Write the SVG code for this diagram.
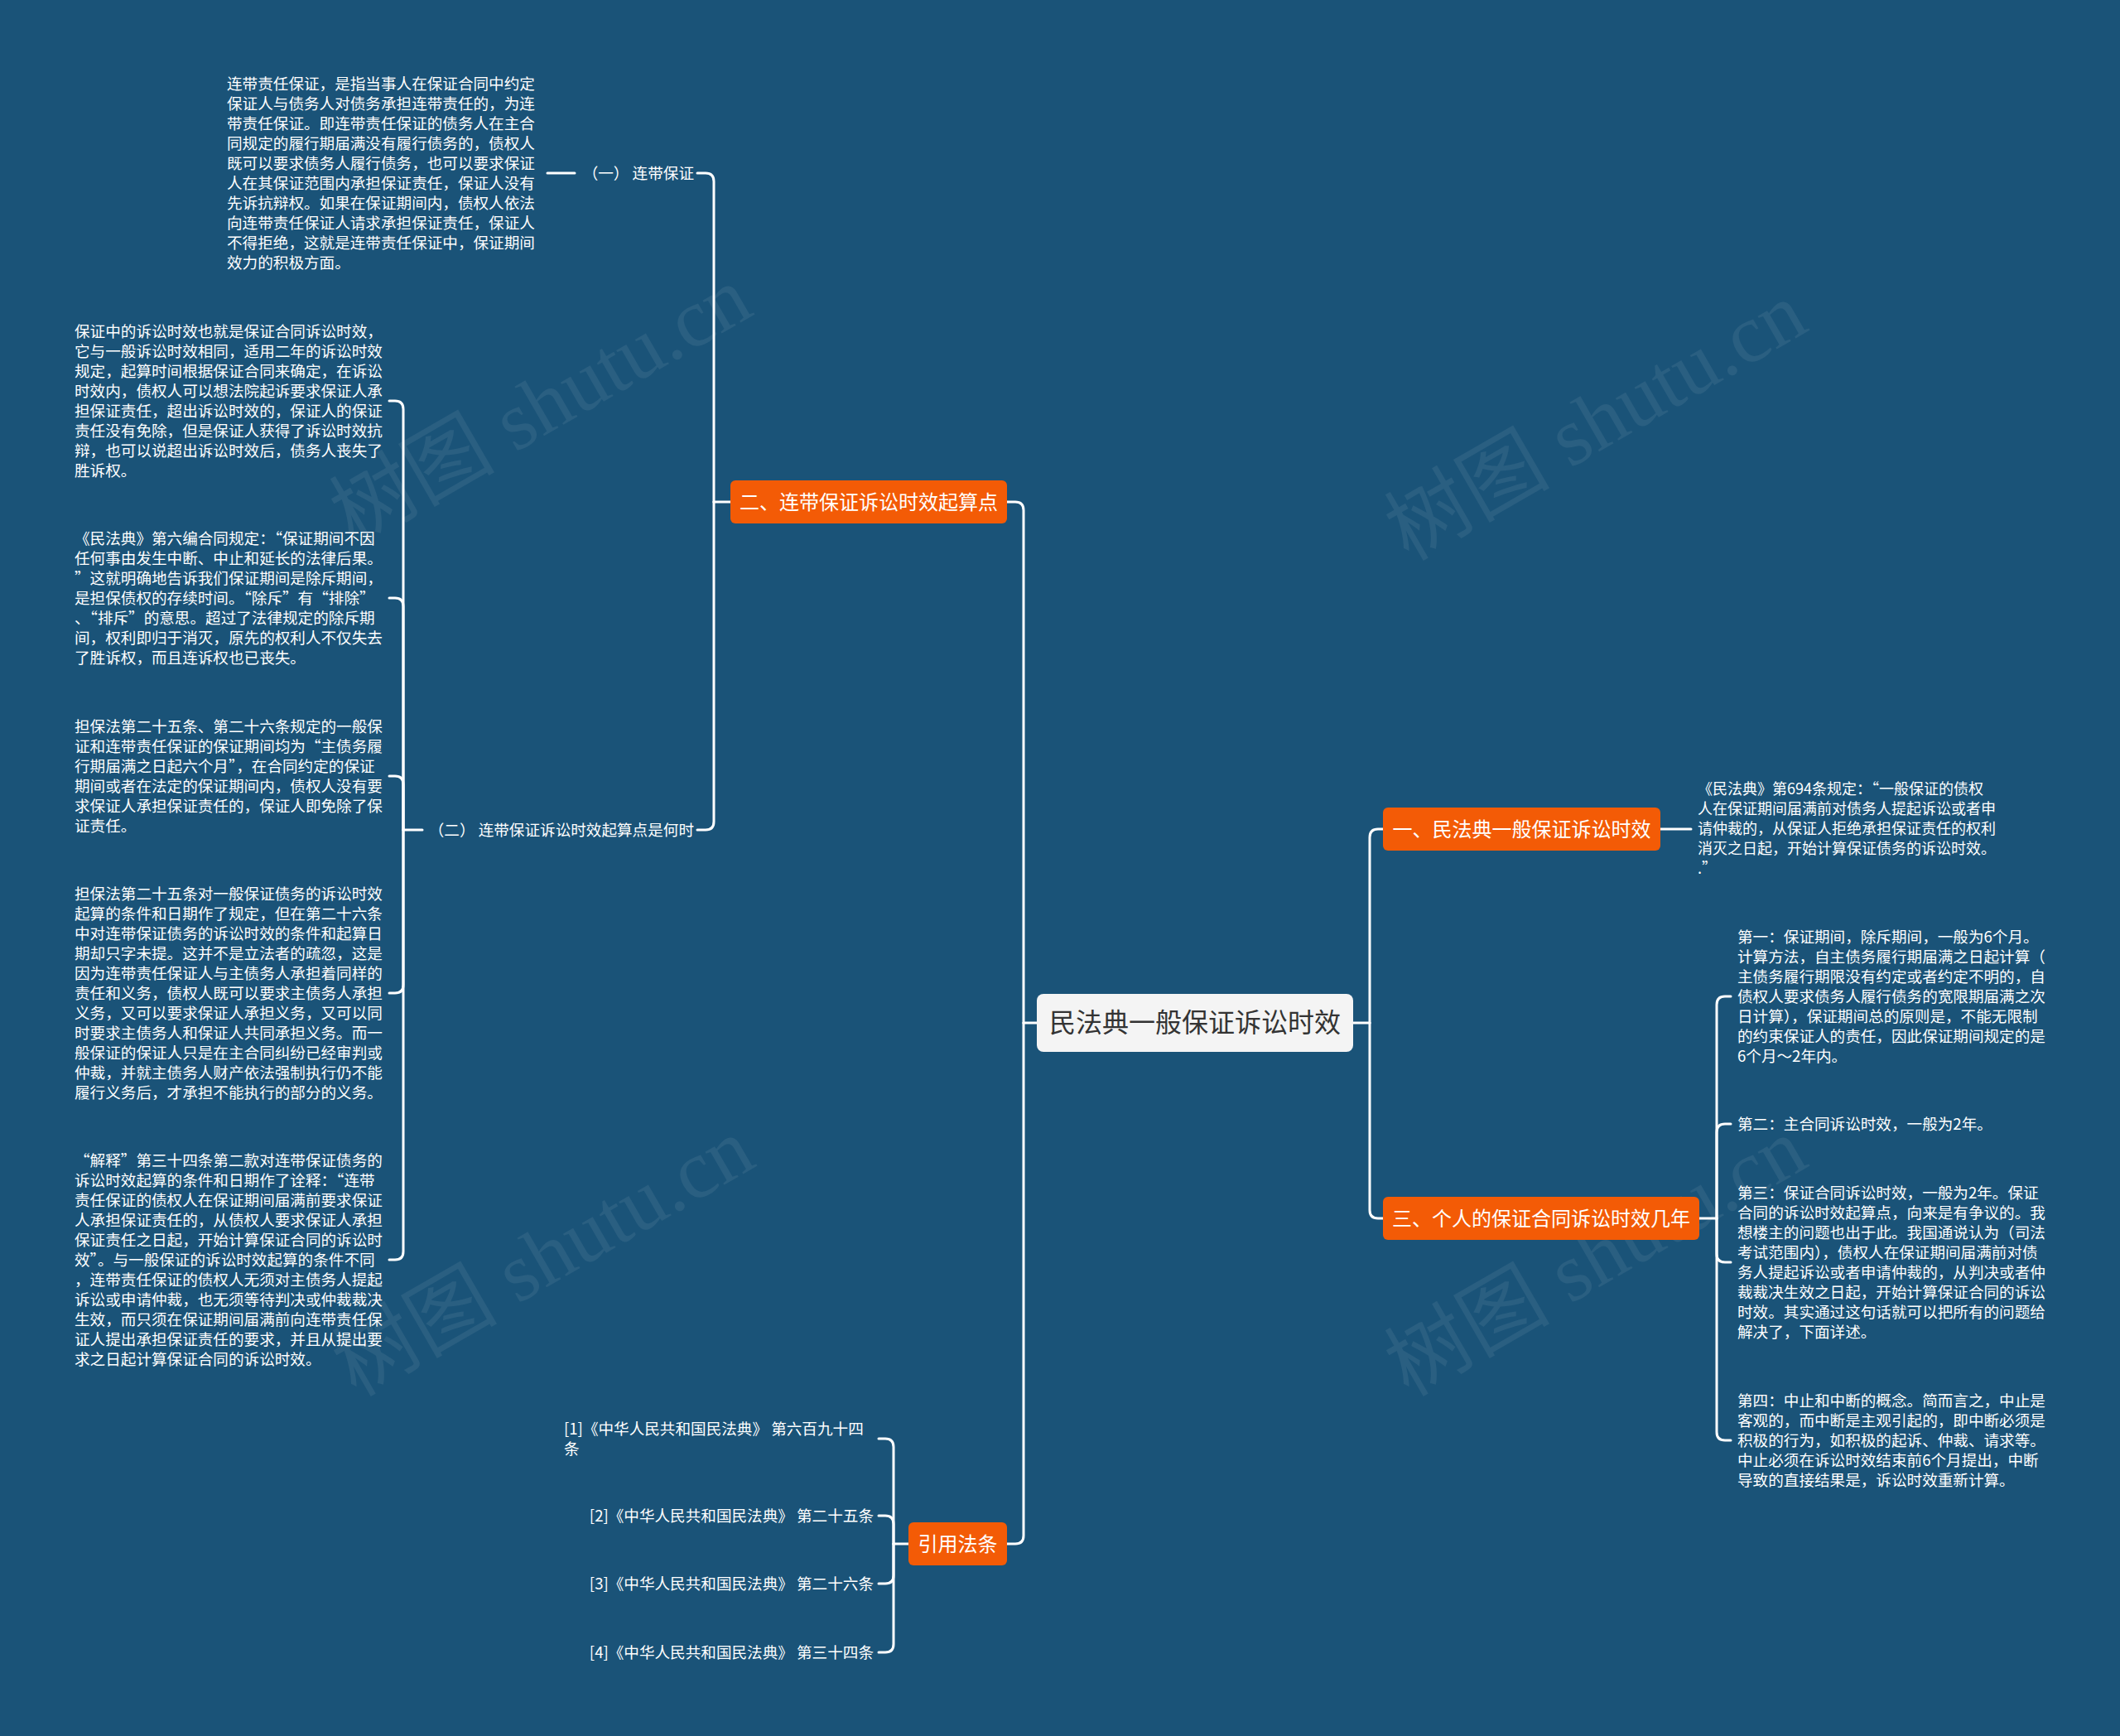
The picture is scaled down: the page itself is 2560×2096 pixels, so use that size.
<svg xmlns="http://www.w3.org/2000/svg" width="2560" height="2096" viewBox="0 0 2560 2096">
<style>
.bg{fill:#1a5378}
.wm{font-family:"Liberation Serif","Noto Sans CJK SC",serif;font-size:100px;fill:#ffffff;fill-opacity:0.07}
.t{font-family:"Noto Sans CJK SC","Liberation Sans",sans-serif;font-size:18.6px;fill:#ffffff}
.t18{font-family:"Noto Sans CJK SC","Liberation Sans",sans-serif;font-size:18px;fill:#ffffff}
.br{fill:#f35b06}
.bt{font-family:"Noto Sans CJK SC","Liberation Sans",sans-serif;font-size:24px;fill:#ffffff;text-anchor:middle}
.ct{font-family:"Noto Sans CJK SC","Liberation Sans",sans-serif;font-size:32px;fill:#333333;text-anchor:middle}
.c{fill:none;stroke:#ffffff;stroke-width:3;stroke-linecap:round;stroke-linejoin:round}
</style>
<rect class="bg" x="0" y="0" width="2560" height="2096"/>
<g id="watermarks">
<text class="wm" transform="translate(653,490) rotate(-30)" text-anchor="middle" dominant-baseline="central">树图 shutu.cn</text>
<text class="wm" transform="translate(1927,509) rotate(-30)" text-anchor="middle" dominant-baseline="central">树图 shutu.cn</text>
<text class="wm" transform="translate(656,1518) rotate(-30)" text-anchor="middle" dominant-baseline="central">树图 shutu.cn</text>
<text class="wm" transform="translate(1927,1518) rotate(-30)" text-anchor="middle" dominant-baseline="central">树图 shutu.cn</text>
</g>
<g id="connectors">
<path class="c" d="M1252,1235 H1236"/>
<path class="c" d="M1236,1235 V616 Q1236,606 1226,606 H1216"/>
<path class="c" d="M1236,1235 V1854 Q1236,1864 1226,1864 H1216"/>
<path class="c" d="M1634,1235 H1654"/>
<path class="c" d="M1654,1235 V1011 Q1654,1001 1664,1001 H1670"/>
<path class="c" d="M1654,1235 V1461 Q1654,1471 1664,1471 H1670"/>
<path class="c" d="M882,606 H862"/>
<path class="c" d="M862,606 V219 Q862,209 852,209 H842"/>
<path class="c" d="M862,606 V992 Q862,1002 852,1002 H842"/>
<path class="c" d="M694,209 H661"/>
<path class="c" d="M510,1002 H487"/>
<path class="c" d="M487,1002 V494 Q487,484 477,484 H470"/>
<path class="c" d="M487,1002 V732 Q487,722 477,722 H470"/>
<path class="c" d="M487,1002 V947 Q487,937 477,937 H470"/>
<path class="c" d="M487,1002 V1189 Q487,1199 477,1199 H470"/>
<path class="c" d="M487,1002 V1511 Q487,1521 477,1521 H470"/>
<path class="c" d="M2005,1001 H2042"/>
<path class="c" d="M2052,1471 H2073"/>
<path class="c" d="M2073,1471 V1213 Q2073,1203 2083,1203 H2090"/>
<path class="c" d="M2073,1471 V1367 Q2073,1357 2083,1357 H2090"/>
<path class="c" d="M2073,1471 V1514 Q2073,1524 2083,1524 H2090"/>
<path class="c" d="M2073,1471 V1729 Q2073,1739 2083,1739 H2090"/>
<path class="c" d="M1097,1864 H1079"/>
<path class="c" d="M1079,1864 V1747 Q1079,1737 1069,1737 H1061"/>
<path class="c" d="M1079,1864 V1840 Q1079,1830 1069,1830 H1061"/>
<path class="c" d="M1079,1864 V1902 Q1079,1912 1069,1912 H1061"/>
<path class="c" d="M1079,1864 V1985 Q1079,1995 1069,1995 H1061"/>
</g>
<g id="root">
<rect x="1252" y="1200" width="382" height="70" rx="8" fill="#f4f4f4"/>
<text class="ct" x="1443" y="1246">民法典一般保证诉讼时效</text>
</g>
<g id="branch2">
<rect class="br" x="882" y="580" width="334" height="52" rx="6"/>
<text class="bt" x="1049" y="615">二、连带保证诉讼时效起算点</text>
</g>
<g id="branch1">
<rect class="br" x="1670" y="975" width="335" height="52" rx="6"/>
<text class="bt" x="1837.5" y="1010">一、民法典一般保证诉讼时效</text>
</g>
<g id="branch3">
<rect class="br" x="1670" y="1445" width="382" height="52" rx="6"/>
<text class="bt" x="1861" y="1480">三、个人的保证合同诉讼时效几年</text>
</g>
<g id="branch4">
<rect class="br" x="1097" y="1838" width="119" height="52" rx="6"/>
<text class="bt" x="1156.5" y="1873">引用法条</text>
</g>
<g id="sub-2-1">
<text class="t" x="838" y="216" text-anchor="end">（一） 连带保证</text>
</g>
<g id="sub-2-2">
<text class="t" x="838" y="1009" text-anchor="end">（二） 连带保证诉讼时效起算点是何时</text>
</g>
<g id="leaf-2-1-1">
<text class="t">
<tspan x="274" y="108">连带责任保证，是指当事人在保证合同中约定</tspan>
<tspan x="274" y="132">保证人与债务人对债务承担连带责任的，为连</tspan>
<tspan x="274" y="156">带责任保证。即连带责任保证的债务人在主合</tspan>
<tspan x="274" y="180">同规定的履行期届满没有履行债务的，债权人</tspan>
<tspan x="274" y="204">既可以要求债务人履行债务，也可以要求保证</tspan>
<tspan x="274" y="228">人在其保证范围内承担保证责任，保证人没有</tspan>
<tspan x="274" y="252">先诉抗辩权。如果在保证期间内，债权人依法</tspan>
<tspan x="274" y="276">向连带责任保证人请求承担保证责任，保证人</tspan>
<tspan x="274" y="300">不得拒绝，这就是连带责任保证中，保证期间</tspan>
<tspan x="274" y="324">效力的积极方面。</tspan>
</text>
</g>
<g id="leaf-2-2-1">
<text class="t">
<tspan x="90" y="407">保证中的诉讼时效也就是保证合同诉讼时效，</tspan>
<tspan x="90" y="431">它与一般诉讼时效相同，适用二年的诉讼时效</tspan>
<tspan x="90" y="455">规定，起算时间根据保证合同来确定，在诉讼</tspan>
<tspan x="90" y="479">时效内，债权人可以想法院起诉要求保证人承</tspan>
<tspan x="90" y="503">担保证责任，超出诉讼时效的，保证人的保证</tspan>
<tspan x="90" y="527">责任没有免除，但是保证人获得了诉讼时效抗</tspan>
<tspan x="90" y="551">辩，也可以说超出诉讼时效后，债务人丧失了</tspan>
<tspan x="90" y="575">胜诉权。</tspan>
</text>
</g>
<g id="leaf-2-2-2">
<text class="t">
<tspan x="90" y="657">《民法典》第六编合同规定：“保证期间不因</tspan>
<tspan x="90" y="681">任何事由发生中断、中止和延长的法律后果。</tspan>
<tspan x="90" y="705">”这就明确地告诉我们保证期间是除斥期间，</tspan>
<tspan x="90" y="729">是担保债权的存续时间。“除斥”有“排除”</tspan>
<tspan x="90" y="753">、“排斥”的意思。超过了法律规定的除斥期</tspan>
<tspan x="90" y="777">间，权利即归于消灭，原先的权利人不仅失去</tspan>
<tspan x="90" y="801">了胜诉权，而且连诉权也已丧失。</tspan>
</text>
</g>
<g id="leaf-2-2-3">
<text class="t">
<tspan x="90" y="884">担保法第二十五条、第二十六条规定的一般保</tspan>
<tspan x="90" y="908">证和连带责任保证的保证期间均为“主债务履</tspan>
<tspan x="90" y="932">行期届满之日起六个月”，在合同约定的保证</tspan>
<tspan x="90" y="956">期间或者在法定的保证期间内，债权人没有要</tspan>
<tspan x="90" y="980">求保证人承担保证责任的，保证人即免除了保</tspan>
<tspan x="90" y="1004">证责任。</tspan>
</text>
</g>
<g id="leaf-2-2-4">
<text class="t">
<tspan x="90" y="1086">担保法第二十五条对一般保证债务的诉讼时效</tspan>
<tspan x="90" y="1110">起算的条件和日期作了规定，但在第二十六条</tspan>
<tspan x="90" y="1134">中对连带保证债务的诉讼时效的条件和起算日</tspan>
<tspan x="90" y="1158">期却只字未提。这并不是立法者的疏忽，这是</tspan>
<tspan x="90" y="1182">因为连带责任保证人与主债务人承担着同样的</tspan>
<tspan x="90" y="1206">责任和义务，债权人既可以要求主债务人承担</tspan>
<tspan x="90" y="1230">义务，又可以要求保证人承担义务，又可以同</tspan>
<tspan x="90" y="1254">时要求主债务人和保证人共同承担义务。而一</tspan>
<tspan x="90" y="1278">般保证的保证人只是在主合同纠纷已经审判或</tspan>
<tspan x="90" y="1302">仲裁，并就主债务人财产依法强制执行仍不能</tspan>
<tspan x="90" y="1326">履行义务后，才承担不能执行的部分的义务。</tspan>
</text>
</g>
<g id="leaf-2-2-5">
<text class="t">
<tspan x="90" y="1408">“解释”第三十四条第二款对连带保证债务的</tspan>
<tspan x="90" y="1432">诉讼时效起算的条件和日期作了诠释：“连带</tspan>
<tspan x="90" y="1456">责任保证的债权人在保证期间届满前要求保证</tspan>
<tspan x="90" y="1480">人承担保证责任的，从债权人要求保证人承担</tspan>
<tspan x="90" y="1504">保证责任之日起，开始计算保证合同的诉讼时</tspan>
<tspan x="90" y="1528">效”。与一般保证的诉讼时效起算的条件不同</tspan>
<tspan x="90" y="1552">，连带责任保证的债权人无须对主债务人提起</tspan>
<tspan x="90" y="1576">诉讼或申请仲裁，也无须等待判决或仲裁裁决</tspan>
<tspan x="90" y="1600">生效，而只须在保证期间届满前向连带责任保</tspan>
<tspan x="90" y="1624">证人提出承担保证责任的要求，并且从提出要</tspan>
<tspan x="90" y="1648">求之日起计算保证合同的诉讼时效。</tspan>
</text>
</g>
<g id="leaf-1-1">
<text class="t18">
<tspan x="2050" y="959">《民法典》第694条规定：“一般保证的债权</tspan>
<tspan x="2050" y="983">人在保证期间届满前对债务人提起诉讼或者申</tspan>
<tspan x="2050" y="1007">请仲裁的，从保证人拒绝承担保证责任的权利</tspan>
<tspan x="2050" y="1031">消灭之日起，开始计算保证债务的诉讼时效。</tspan>
<tspan x="2050" y="1055">.”</tspan>
</text>
</g>
<g id="leaf-3-1">
<text class="t">
<tspan x="2098" y="1138">第一：保证期间，除斥期间，一般为6个月。</tspan>
<tspan x="2098" y="1162">计算方法，自主债务履行期届满之日起计算（</tspan>
<tspan x="2098" y="1186">主债务履行期限没有约定或者约定不明的，自</tspan>
<tspan x="2098" y="1210">债权人要求债务人履行债务的宽限期届满之次</tspan>
<tspan x="2098" y="1234">日计算），保证期间总的原则是，不能无限制</tspan>
<tspan x="2098" y="1258">的约束保证人的责任，因此保证期间规定的是</tspan>
<tspan x="2098" y="1282">6个月～2年内。</tspan>
</text>
</g>
<g id="leaf-3-2">
<text class="t" x="2098" y="1364">第二：主合同诉讼时效，一般为2年。</text>
</g>
<g id="leaf-3-3">
<text class="t">
<tspan x="2098" y="1447">第三：保证合同诉讼时效，一般为2年。保证</tspan>
<tspan x="2098" y="1471">合同的诉讼时效起算点，向来是有争议的。我</tspan>
<tspan x="2098" y="1495">想楼主的问题也出于此。我国通说认为（司法</tspan>
<tspan x="2098" y="1519">考试范围内），债权人在保证期间届满前对债</tspan>
<tspan x="2098" y="1543">务人提起诉讼或者申请仲裁的，从判决或者仲</tspan>
<tspan x="2098" y="1567">裁裁决生效之日起，开始计算保证合同的诉讼</tspan>
<tspan x="2098" y="1591">时效。其实通过这句话就可以把所有的问题给</tspan>
<tspan x="2098" y="1615">解决了，下面详述。</tspan>
</text>
</g>
<g id="leaf-3-4">
<text class="t">
<tspan x="2098" y="1698">第四：中止和中断的概念。简而言之，中止是</tspan>
<tspan x="2098" y="1722">客观的，而中断是主观引起的，即中断必须是</tspan>
<tspan x="2098" y="1746">积极的行为，如积极的起诉、仲裁、请求等。</tspan>
<tspan x="2098" y="1770">中止必须在诉讼时效结束前6个月提出，中断</tspan>
<tspan x="2098" y="1794">导致的直接结果是，诉讼时效重新计算。</tspan>
</text>
</g>
<g id="ref-1">
<text class="t">
<tspan x="681" y="1732">[1]《中华人民共和国民法典》 第六百九十四</tspan>
<tspan x="681" y="1756">条</tspan>
</text>
</g>
<g id="ref-2">
<text class="t" x="1055" y="1837" text-anchor="end">[2]《中华人民共和国民法典》 第二十五条</text>
</g>
<g id="ref-3">
<text class="t" x="1055" y="1919" text-anchor="end">[3]《中华人民共和国民法典》 第二十六条</text>
</g>
<g id="ref-4">
<text class="t" x="1055" y="2002" text-anchor="end">[4]《中华人民共和国民法典》 第三十四条</text>
</g>
</svg>
